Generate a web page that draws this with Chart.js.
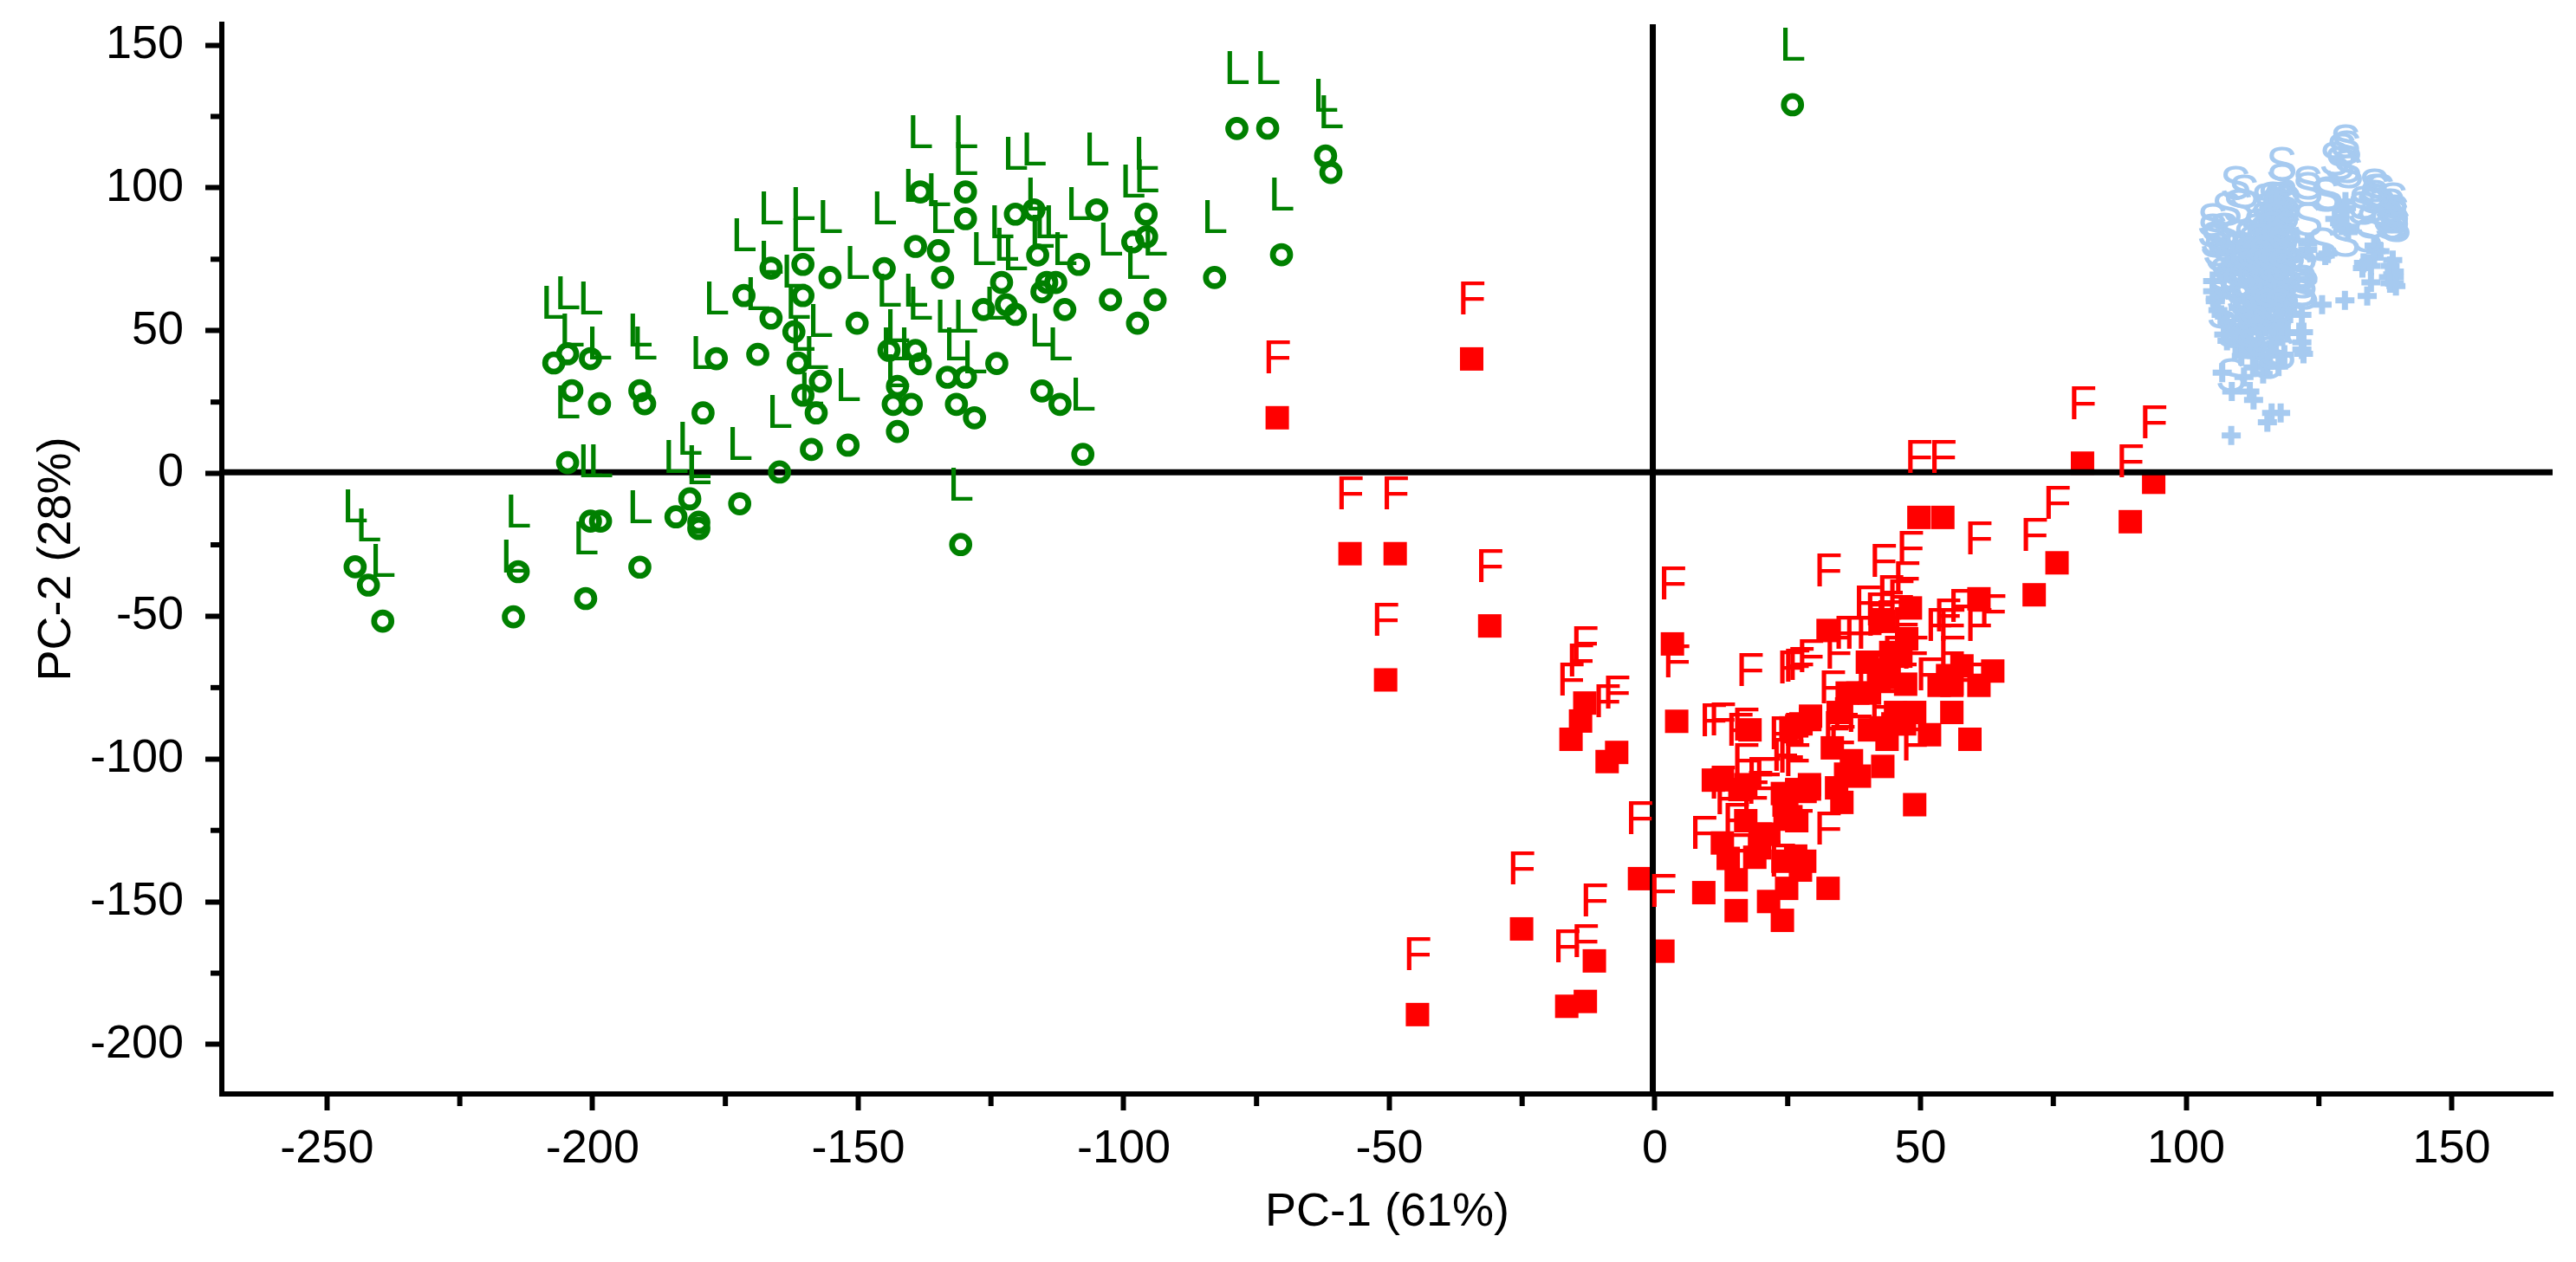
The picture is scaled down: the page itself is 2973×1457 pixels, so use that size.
<!DOCTYPE html>
<html>
<head>
<meta charset="utf-8">
<title>PCA score plot</title>
<script src="https://cdn.jsdelivr.net/npm/chart.js@4/dist/chart.umd.min.js"></script>
<style>
  html, body { margin: 0; padding: 0; background: #fff; }
  canvas { display: block; }
</style>
</head>
<body>
<canvas id="pca" width="2973" height="1457"></canvas>
<script>
const greenX = [-78.7,-72.9,-138.3,-129.8,-129.8,-120.4,-116.9,-105.1,-95.8,-95.7,-98.3,-139.2,-134.9,-145.1,-116.2,-108.5,-155.3,-134.1,-82.9,-123,
  -114.5,-112.8,-115.4,-122.1,-102.5,-94.1,-126.4,-120.4,-111.1,-150.2,-97.4,-144.2,-139.2,-138.3,-123.9,-133.2,-129.8,-142.6,-115.4,-143.4,
  -140,-131.5,-112,-128.1,-142.6,-151.9,-107.7,-166.4,-160.4,-160.4,-171.5,-166.4,-162.1,-204.7,-207.3,-200.4,-176.7,-168.9,-161.3,-157.1,
  -160.4,-157.9,-203.9,-198.7,-191.1,-190.2,-179.2,-158.8,-204.7,-164.8,-181.7,-184.3,-180,-180,-172.3,-200.4,-198.5,-130.7,-244.7,-242.2,
  -239.5,-214,-214.9,-191.1,-201.3,25.9,-62,-61,-70.3];
const greenY = [120.8,120.9,98.6,98.6,89.2,90.8,92.3,92.3,90.8,82.9,81.1,79.5,78,71.7,76.5,73.2,68.6,68.6,68.6,66.9,
  66.9,66.9,63.6,59.1,60.8,60.8,57.4,55.7,57.4,52.6,52.6,43.1,43.1,38.4,38.5,33.7,33.7,30.5,28.9,24.2,
  24.2,24.2,24.2,19.5,14.7,9.9,6.7,71.9,73.2,62.3,62.3,54.4,49.6,41.9,38.7,40.2,40.2,41.7,38.7,32.3,
  27.4,21.2,29,24.4,29,24.4,21.2,8.4,3.8,0.5,-8.9,-15.2,-17.1,-19.3,-10.6,-16.7,-16.7,-24.9,-32.7,-39.1,
  -51.7,-34.4,-50.2,-32.8,-43.8,129.1,111.2,105.4,76.6];

const redX = [93.9,89.5,75.7,71.4,49.7,54.2,32.6,43,48.1,47.4,61,3.3,4.1,17.9,26.7,11,17.1,17.1,12.7,
  19.8,15.3,24,25.6,26.7,9.2,32.6,1.5,-2.9,-11.4,-13.1,-16.6,33.4,34.5,40.4,42.1,38.2,40.4,51.7,55.9,
  53.5,55.1,57.8,61,63.6,59.3,48.9,43.7,47.2,45.3,48.9,29.3,36.2,37,42.9,35.9,38.5,34.2,35.2,29.1,
  29.1,26.7,21.2,13.8,18.8,15.3,24.8,21.4,24,27.4,24.1,28.2,26.5,44.4,46.3,40,44.1,42.2,42.6,
  44.8,47,12.7,16,25.6,27.5,55.9,24.5,19.7,-71.1,-34.5,-57.4,-48.9,-31.1,-50.7,-13.2,-14,-15.8,-7.2,-9,
  -25.1,-44.7,80.5];
const redY = [-3.1,-16.9,-31.3,-42.5,-15.4,-15.4,-55,-51.8,-47.1,-57.9,-43.9,-59.7,-86.8,-89.8,-88.4,-107.4,-109,-121.6,-129.4,
  -126.3,-142.3,-112.1,-120.2,-121.6,-146.8,-145.3,-167.3,-141.9,-170.7,-184.9,-186.6,-96.1,-83.7,-89.8,-68.8,-76.9,-76.9,-91.5,-83.7,
  -74.2,-70.8,-67.4,-74.2,-69.2,-93.1,-116,-93.1,-73.8,-83.7,-83.7,-85,-76.9,-100.6,-102.6,-105.3,-106,-110.1,-115.2,-109,
  -110.5,-110.7,-126.3,-134.8,-134.4,-153.1,-145.3,-149.9,-156.5,-138.9,-135.8,-135.8,-134,-62.7,-64,-66.1,-71.5,-72.2,-89.1,
  -87.7,-87.7,-107.3,-110.7,-89.1,-87.7,-74.2,-119.5,-131.1,19.5,40.1,-28.1,-28.1,-53.4,-72.3,-80.4,-86.7,-93.1,-97.7,-100.9,
  -159.5,-189.5,3.6];

const blueX = [108.5,115.3,116.1,117.8,112.7,108.6,112,110.9,106.8,114.5,122.1,121.8,121.3,119.6,125.6,129.9,134.1,134.8,133.2,139.2,
  139.2,138.4,139.2,135.7,126.2,122.9,130.2,128,130.2,105,107.7,110.1,112,118,114.7,138.9,138.9,139.5,138.1,138.4,
  135.4,135.4,136.5,134.8,133.4,109.3,110.9,107.7,109.8,105,107.1,105.5,107.1,106.6,122.9,126.7,118,118,121.8,122.1,
  121.8,122.9,130,129.3,128.9,130.5,
  116.9,118.8,116.4,118.5,
  113.6,115.8,118,105.5,109.3,111.7,113.9,116.1,118.3,106,109.8,112.6,114.7,116.9,119.1,107.7,110.4,113.1,115.3,118,
  108.8,111.2,113.6,116.1,119.1,109.3,112,114.2,116.9,110.4,113.1,115.8,118.5,112.6,115.3,117.4,
  115.1,116.3,117.4,118.2,115.6,117,118.6,114.9,116.2,117.6,113.2,114.6,116,117.3,118.9,
  112.4,113.8,115.2,116.6,118.1,111.6,113,114.4,110.6,112.2,113.5,115,116.4,117.9];
const blueY = [13.3,17.9,21.2,21.2,25.7,28.7,28.7,33.8,35.3,34.8,41.9,45.9,49.5,56,59.1,60.6,62.1,66.9,71.9,66.6,
  68.7,72.7,70.7,77.8,76.3,78.3,86.4,89.1,92.9,63.8,46.4,45.4,43.4,49.5,37.3,74.7,69.7,65.6,68.7,66.6,
  79.8,75.7,77.8,72.7,73.7,80.5,77.5,71.4,72.4,67.4,64.3,60.3,48.6,55.5,80.5,77,87.1,81.5,55.5,49.5,
  43.4,67.9,95.2,92.1,87.6,84.5,
  73.4,74,69.3,70,
  65.7,65.3,65.9,61.2,61.9,61.4,62,61.5,61.8,57.2,57.9,57.5,58,57.3,57.7,53.1,53.9,53.4,53.7,53.2,
  49.1,49.8,49.4,49.7,49.2,45.1,45.6,45.3,45.7,41.1,41.7,41.3,41.6,37.1,37.6,37.4,
  74.5,75,74.8,75.2,71.6,72,72.3,68.1,67.4,68.3,64,63.4,64.5,63.1,64.2,
  59.6,60.1,59.2,60.4,59.8,55.8,55.2,56.1,51.6,51.1,51.8,51.3,51.7,51.2];

const xTicks = [-250,-200,-150,-100,-50,0,50,100,150];
const yTicks = [-200,-150,-100,-50,0,50,100,150];
const xMinorTicks = [-225,-175,-125,-75,-25,25,75,125];
const yMinorTicks = [-175,-125,-75,-25,25,75,125];
const xRange = [-269.8, 169];
const yRange = [-217.3, 157.3];
const xTitle = 'PC-1 (61%)';
const yTitle = 'PC-2 (28%)';
// the two black lines sit a hair off the 0 ticks in the original
const zeroLineX = -0.4;
const zeroLineY = 0.4;

const FONT = '"Liberation Sans", Arial, sans-serif';

function pairs(xs, ys) {
    return xs.map((x, i) => ({ x: x, y: ys[i] }));
}

// letter above every marker
const letterLabels = {
    id: 'letterLabels',
    afterDatasetsDraw(chart) {
        const ctx = chart.ctx;
        ctx.save();
        ctx.font = '55px ' + FONT;
        ctx.textAlign = 'center';
        ctx.textBaseline = 'alphabetic';
        chart.data.datasets.forEach((ds, i) => {
            if (!ds.letter) return;
            ctx.fillStyle = ds.borderColor;
            chart.getDatasetMeta(i).data.forEach(p => {
                ctx.fillText(ds.letter, p.x, p.y - 51);
            });
        });
        ctx.restore();
    }
};

// chart.js has one tick length per axis, so the short ones go here
const minorTicks = {
    id: 'minorTicks',
    afterDraw(chart) {
        const ctx = chart.ctx;
        const x = chart.scales.x, y = chart.scales.y;
        const area = chart.chartArea;
        ctx.save();
        ctx.strokeStyle = '#000';
        ctx.lineWidth = 6;
        xMinorTicks.forEach(v => {
            const px = x.getPixelForValue(v);
            ctx.beginPath();
            ctx.moveTo(px, area.bottom);
            ctx.lineTo(px, area.bottom + 14);
            ctx.stroke();
        });
        yMinorTicks.forEach(v => {
            const py = y.getPixelForValue(v);
            ctx.beginPath();
            ctx.moveTo(area.left, py);
            ctx.lineTo(area.left - 13, py);
            ctx.stroke();
        });
        ctx.restore();
    }
};

new Chart(document.getElementById('pca'), {
    type: 'scatter',
    data: {
        datasets: [{
            label: 'F',
            letter: 'F',
            data: pairs(redX, redY),
            pointStyle: 'rect',
            pointRadius: 19.1,
            backgroundColor: '#ff0000',
            borderColor: '#ff0000',
            pointBorderWidth: 0,
            order: 4
        }, {
            label: 'x0',
            data: pairs([zeroLineX, zeroLineX], yRange),
            showLine: true,
            pointRadius: 0,
            borderColor: '#000',
            borderWidth: 7,
            order: 3
        }, {
            label: 'y0',
            data: pairs(xRange, [zeroLineY, zeroLineY]),
            showLine: true,
            pointRadius: 0,
            borderColor: '#000',
            borderWidth: 7,
            order: 3
        }, {
            label: 'L',
            letter: 'L',
            data: pairs(greenX, greenY),
            pointStyle: 'circle',
            pointRadius: 10,
            backgroundColor: 'transparent',
            borderColor: '#008000',
            pointBorderWidth: 6.7,
            order: 2
        }, {
            label: 'S',
            letter: 'S',
            data: pairs(blueX, blueY),
            pointStyle: 'cross',
            pointRadius: 11,
            backgroundColor: '#a6caf0',
            borderColor: '#a6caf0',
            pointBorderWidth: 7,
            order: 1
        }]
    },
    options: {
        responsive: false,
        animation: false,
        events: [],
        layout: { padding: { left: 0, top: 28, right: 27, bottom: 0 } },
        plugins: { legend: { display: false }, tooltip: { enabled: false } },
        scales: {
            x: {
                type: 'linear',
                min: xRange[0],
                max: xRange[1],
                afterFit(s) { s.height = 194; s.paddingLeft = 0; s.paddingRight = 0; },
                afterBuildTicks(s) { s.ticks = xTicks.map(v => ({ value: v })); },
                grid: { drawOnChartArea: false, drawTicks: true, tickLength: 19, tickWidth: 6, tickColor: '#000' },
                border: { display: true, color: '#000', width: 6 },
                ticks: {
                    autoSkip: false,
                    maxRotation: 0,
                    padding: 13,
                    color: '#000',
                    font: { family: FONT, size: 54 },
                    callback: v => String(v)
                },
                title: {
                    display: true,
                    text: xTitle,
                    color: '#000',
                    font: { family: FONT, size: 54 },
                    padding: { top: 0, bottom: 24 }
                }
            },
            y: {
                type: 'linear',
                min: yRange[0],
                max: yRange[1],
                afterFit(s) { s.width = 256; s.paddingTop = 0; s.paddingBottom = 0; },
                afterBuildTicks(s) { s.ticks = yTicks.map(v => ({ value: v })); },
                grid: { drawOnChartArea: false, drawTicks: true, tickLength: 19, tickWidth: 6, tickColor: '#000' },
                border: { display: true, color: '#000', width: 6 },
                ticks: {
                    autoSkip: false,
                    padding: 25,
                    color: '#000',
                    font: { family: FONT, size: 54 },
                    callback: v => String(v)
                },
                title: {
                    display: true,
                    text: yTitle,
                    color: '#000',
                    font: { family: FONT, size: 54 },
                    padding: { top: 34, bottom: 0 }
                }
            }
        }
    },
    plugins: [letterLabels, minorTicks]
});
</script>
</body>
</html>
